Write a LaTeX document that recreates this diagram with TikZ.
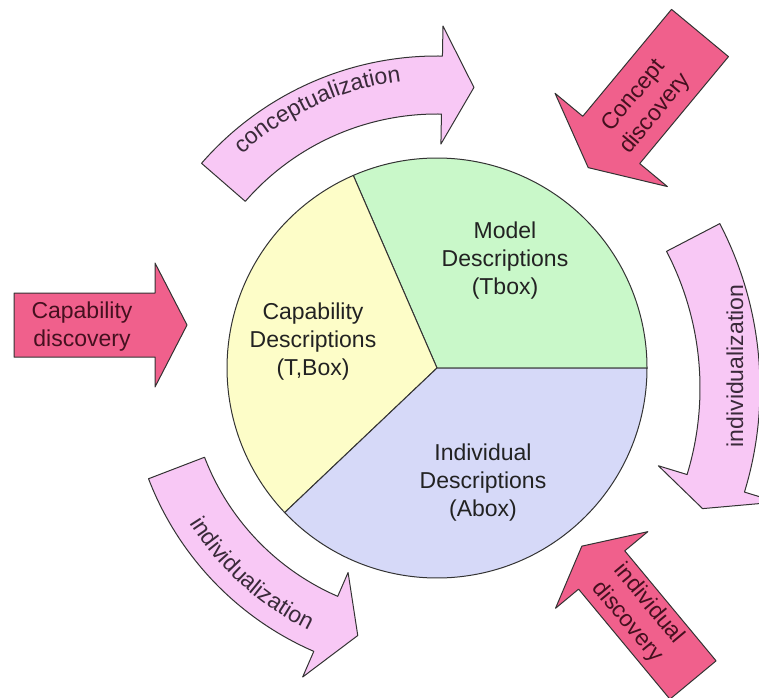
\documentclass[tikz,border=0pt]{standalone}
\usepackage{fontspec}
\setmainfont{Liberation Sans}
\usetikzlibrary{decorations.text}
\definecolor{outline}{HTML}{333333}
\definecolor{sliceyellow}{HTML}{FDFDC8}
\definecolor{slicegreen}{HTML}{C9F8C9}
\definecolor{sliceblue}{HTML}{D6D9F8}
\definecolor{arcpink}{HTML}{F8C8F5}
\definecolor{hotpink}{HTML}{F0608C}
\definecolor{slicetextcol}{HTML}{222222}
\definecolor{arctextcol}{HTML}{3A2A3A}
\definecolor{disctextcol}{HTML}{45101F}

\begin{document}
\fontsize{23}{28}\selectfont
\begin{tikzpicture}[x=1pt, y=1pt, line join=round,
    slice/.style={draw=outline, line width=1pt},
    bendarrow/.style={draw=outline, line width=1pt, fill=arcpink},
    discarrow/.style={draw=outline, line width=1pt, fill=hotpink},
    slicetext/.style={align=center, text=slicetextcol},
    arctext/.style={text=arctextcol},
    disctext/.style={align=center, text=disctextcol},
  ]
    \useasboundingbox (0,0) rectangle (759,697);

    % the three descriptions
    \begin{scope}[shift={(437,329)}]
      \filldraw[slice, fill=slicegreen] (0,0) -- (0:210) arc[start angle=0, end angle=113.5, radius=210pt] -- cycle;
      \filldraw[slice, fill=sliceyellow] (0,0) -- (113.5:210) arc[start angle=113.5, end angle=223.5, radius=210pt] -- cycle;
      \filldraw[slice, fill=sliceblue] (0,0) -- (223.5:210) arc[start angle=223.5, end angle=360, radius=210pt] -- cycle;
    \end{scope}
    \node[slicetext] (model) at (505,436) {Model\\Descriptions\\(Tbox)};
    \node[slicetext] (capab) at (313,355) {Capability\\Descriptions\\(T,Box)};
    \node[slicetext] (indiv) at (483,214) {Individual\\Descriptions\\(Abox)};

    % curved arrows round the circle
    \begin{scope}[shift={(437,329)}]
      \draw[bendarrow] (139:312) arc[start angle=139, end angle=89, radius=312pt]
        -- (89:342) -- (82.5:283) -- (89:224) -- (89:254)
        arc[start angle=89, end angle=139, radius=254pt] -- cycle;
      \path[decorate, decoration={text along path, text align=center,
          text color=arctextcol, text={conceptualization}}]
        (139.5:289) arc[start angle=139.5, end angle=90, radius=289pt];
      \draw[bendarrow] (201:309) arc[start angle=201, end angle=246.5, radius=309pt]
        -- (246.5:337) -- (253.5:279) -- (246.5:223) -- (246.5:249)
        arc[start angle=246.5, end angle=201, radius=249pt] -- cycle;
      \path[decorate, decoration={text along path, text align=center,
          text color=arctextcol, text={individualization}}]
        (206:292) arc[start angle=206, end angle=250, radius=292pt];
    \end{scope}
    \begin{scope}[shift={(404,309)}]
      \draw[bendarrow] (27.5:356) arc[start angle=27.5, end angle=-17, radius=356pt]
        -- (-17:390) -- (-22:322) -- (-17:266) -- (-17:296)
        arc[start angle=-17, end angle=27.5, radius=296pt] -- cycle;
    \end{scope}
    \node[arctext, rotate=90] (indivright) at (735,331) {individualization};

    % discovery arrows
    \draw[discarrow] (14,340) -- (155,340) -- (155,310) -- (187,372)
      -- (155,434) -- (155,404) -- (14,404) -- cycle;
    \node[disctext] (capdisc) at (82,370) {Capability\\discovery};
    \begin{scope}[shift={(700,664)}, rotate=230.3]
      \draw[discarrow] (0,-37) -- (139,-37) -- (139,-73) -- (175,0)
        -- (139,73) -- (139,37) -- (0,37) -- cycle;
    \end{scope}
    \node[disctext, rotate=50.3] (concdisc) at (645,592) {Concept\\discovery};
    \begin{scope}[shift={(693,17)}, rotate=129.7]
      \draw[discarrow] (0,-30) -- (143,-30) -- (143,-60) -- (174,0)
        -- (143,60) -- (143,30) -- (0,30) -- cycle;
    \end{scope}
    \node[disctext, rotate=-50.3] (inddisc) at (638,84) {individual\\discovery};
  \end{tikzpicture}
\end{document}
